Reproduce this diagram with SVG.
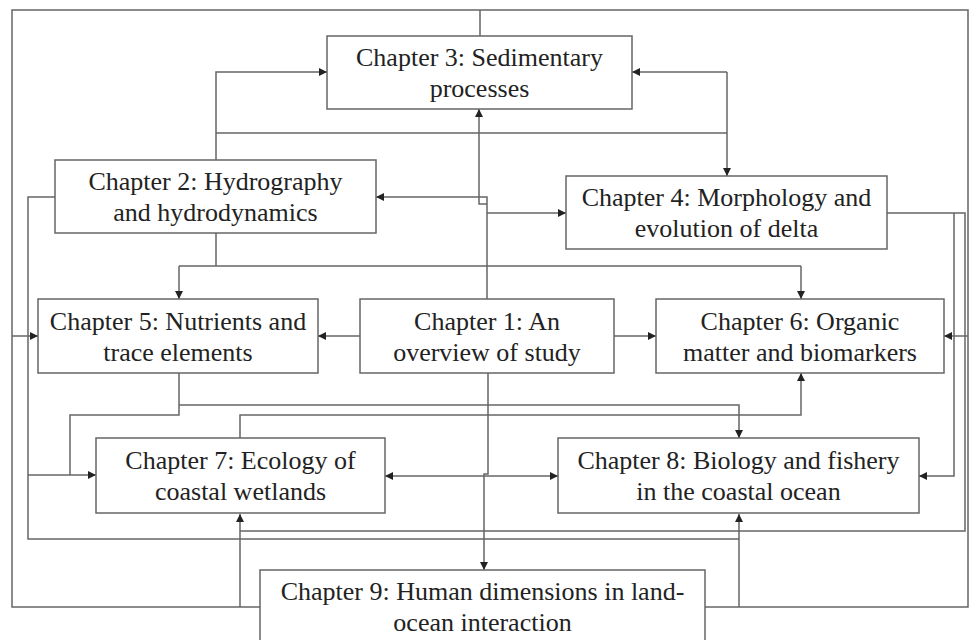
<svg xmlns="http://www.w3.org/2000/svg" width="970" height="640" viewBox="0 0 970 640">
<defs>
<marker id="ah" viewBox="0 0 10 10" refX="10" refY="5" markerWidth="8" markerHeight="8" markerUnits="userSpaceOnUse" orient="auto-start-reverse">
<path d="M0,0 L10,5 L0,10 Z" fill="#222"/>
</marker>
<style>
.box{fill:#fff;stroke:#666;stroke-width:1.5}
.t{font-family:"Liberation Serif","Times New Roman",serif;font-size:26px;fill:#222;text-anchor:middle}
.c{fill:none;stroke:#666;stroke-width:1.5}
.a{marker-end:url(#ah)}
.b{marker-start:url(#ah);marker-end:url(#ah)}
</style>
</defs>
<rect width="970" height="640" fill="#fff"/>
<g id="connectors">
<path class="c" d="M260,607 H12 V10 H968 V607 H705"/>
<path class="c" d="M480,10 V36"/>
<path class="c a" d="M240,607 V514"/>
<path class="c a" d="M739,607 V514"/>
<path class="c a" d="M12,336 H38"/>
<path class="c a" d="M968,336 H944"/>
<path class="c a" d="M216,160 V72 H327"/>
<path class="c" d="M216,133 H727"/>
<path class="c a" d="M727,72 V176"/>
<path class="c a" d="M727,72 H632"/>
<path class="c a" d="M487,299 V197 H376"/>
<path class="c a" d="M487,204 H479 V109"/>
<path class="c a" d="M487,213 H566"/>
<path class="c" d="M216,233 V266 M179,266 H801"/>
<path class="c a" d="M179,266 V299"/>
<path class="c a" d="M801,266 V299"/>
<path class="c" d="M55,197 H28 V539 H739"/>
<path class="c a" d="M28,475 H96"/>
<path class="c a" d="M360,336 H318"/>
<path class="c a" d="M614,336 H656"/>
<path class="c" d="M179,373 V415 H70 V475"/>
<path class="c a" d="M179,405 H739 V438"/>
<path class="c a" d="M240,438 V415 H801 V373"/>
<path class="c a" d="M488,373 V474 H484 V570"/>
<path class="c b" d="M385,476 H558"/>
<path class="c" d="M887,213 H965 V531 H240"/>
<path class="c a" d="M954,213 V476 H919"/>
</g>
<g id="ch3"><rect class="box" x="327" y="36" width="305" height="73"/><text class="t" x="479.5" y="66">Chapter 3: Sedimentary</text><text class="t" x="479.5" y="97">processes</text></g>
<g id="ch2"><rect class="box" x="55" y="160" width="321" height="73"/><text class="t" x="215.5" y="190">Chapter 2: Hydrography</text><text class="t" x="215.5" y="221">and hydrodynamics</text></g>
<g id="ch4"><rect class="box" x="566" y="176" width="321" height="73"/><text class="t" x="726.5" y="206">Chapter 4: Morphology and</text><text class="t" x="726.5" y="237">evolution of delta</text></g>
<g id="ch5"><rect class="box" x="38" y="299" width="280" height="74"/><text class="t" x="178" y="329.5">Chapter 5: Nutrients and</text><text class="t" x="178" y="360.5">trace elements</text></g>
<g id="ch1"><rect class="box" x="360" y="299" width="254" height="74"/><text class="t" x="487" y="329.5">Chapter 1: An</text><text class="t" x="487" y="360.5">overview of study</text></g>
<g id="ch6"><rect class="box" x="656" y="299" width="288" height="74"/><text class="t" x="800" y="329.5">Chapter 6: Organic</text><text class="t" x="800" y="360.5">matter and biomarkers</text></g>
<g id="ch7"><rect class="box" x="96" y="438" width="289" height="75"/><text class="t" x="240.5" y="469">Chapter 7: Ecology of</text><text class="t" x="240.5" y="500">coastal wetlands</text></g>
<g id="ch8"><rect class="box" x="558" y="438" width="361" height="75"/><text class="t" x="738.5" y="469">Chapter 8: Biology and fishery</text><text class="t" x="738.5" y="500">in the coastal ocean</text></g>
<g id="ch9"><rect class="box" x="260" y="570" width="445" height="80"/><text class="t" x="482.5" y="600">Chapter 9: Human dimensions in land-</text><text class="t" x="482.5" y="631">ocean interaction</text></g>
</svg>
